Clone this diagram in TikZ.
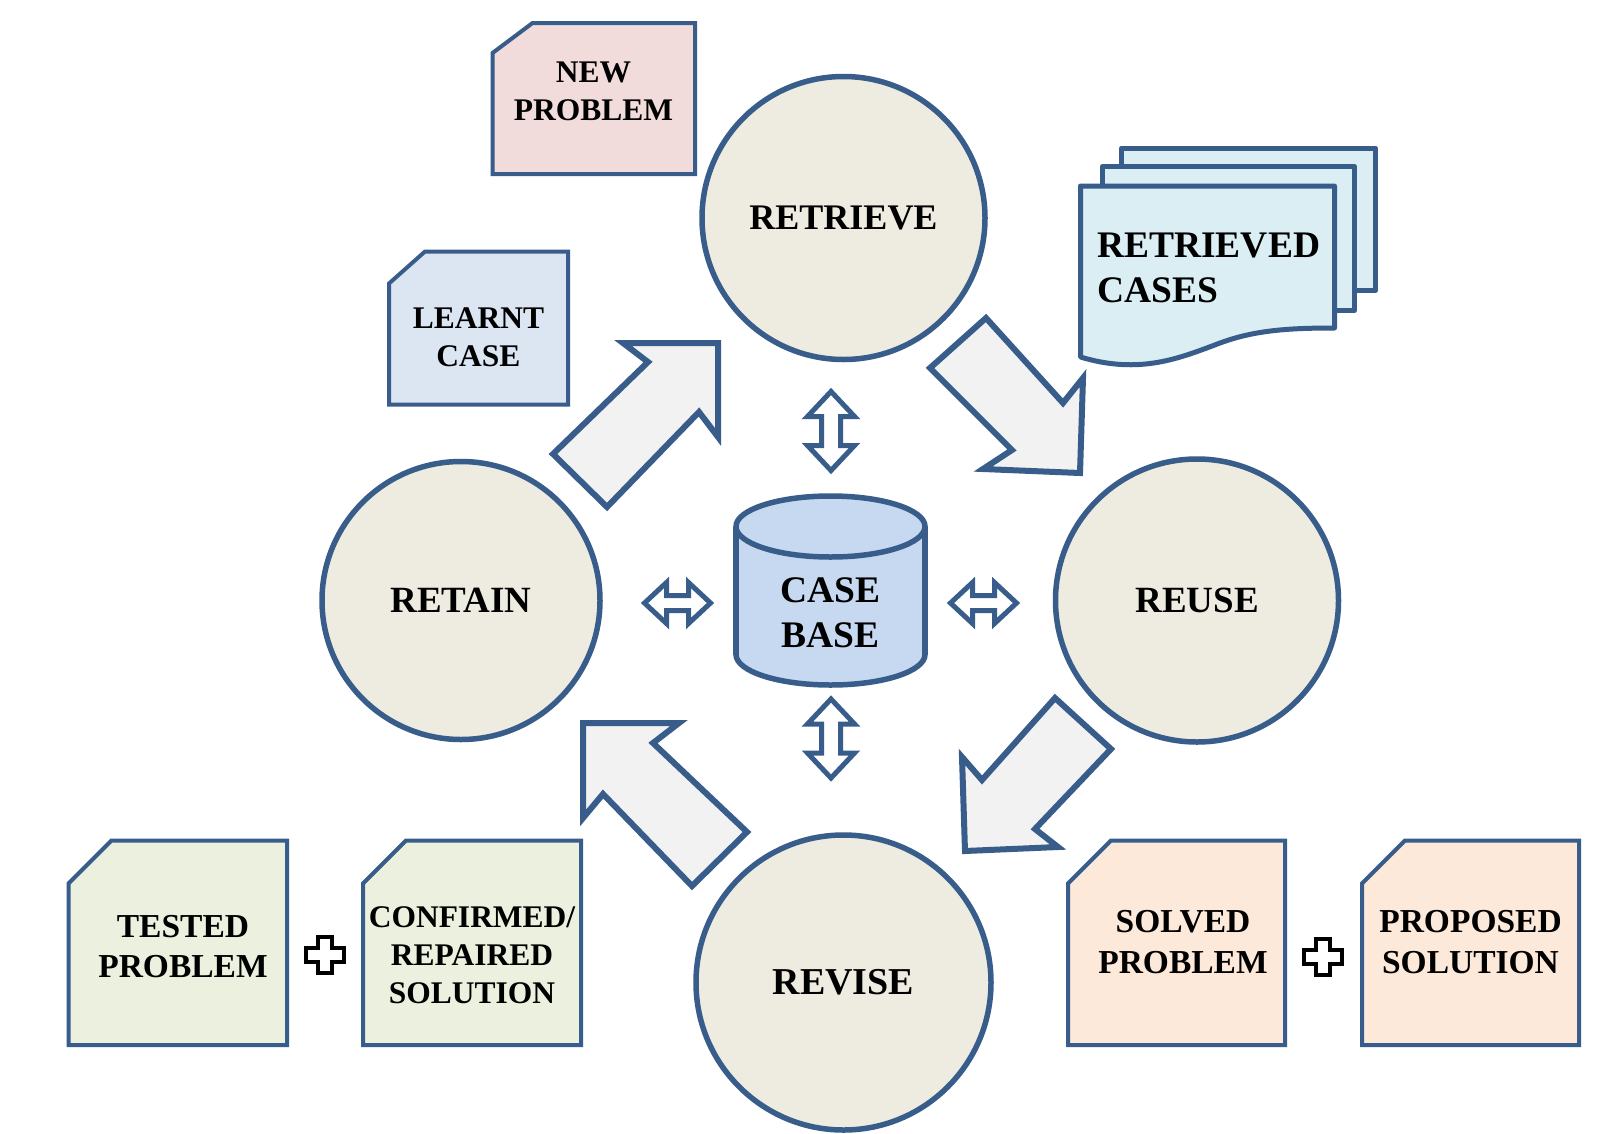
\documentclass[tikz,border=0pt]{standalone}
\usepackage{fontspec}
\setmainfont{Liberation Serif}
\definecolor{edge}{HTML}{385D8A}
\definecolor{procfill}{HTML}{EEECE1}
\definecolor{arrowfill}{HTML}{F2F2F2}
\definecolor{cylfill}{HTML}{C6D9F1}
\definecolor{pinkfill}{HTML}{F2DCDB}
\definecolor{learntfill}{HTML}{DCE6F2}
\definecolor{retrfill}{HTML}{DBEEF4}
\definecolor{greenfill}{HTML}{EBF1DE}
\definecolor{peachfill}{HTML}{FDE9D9}
\tikzset{
  proc/.style={circle, draw=edge, line width=5.5pt, fill=procfill, inner sep=0pt},
  docshape/.style={draw=edge, line width=4pt, line join=miter},
  multidoc/.style={draw=edge, line width=5pt, line join=round, fill=retrfill},
  doctext/.style={align=center, inner sep=0pt},
  blockarrow/.style={draw=edge, fill=arrowfill, line width=6pt, line join=miter},
  dblarrow/.style={draw=edge, fill=white, line width=5pt, line join=miter},
  plussign/.style={draw=black, fill=white, line width=3.5pt, line join=miter},
  cylshape/.style={draw=edge, fill=cylfill, line width=5.5pt},
}
\newcommand{\fs}[1]{\bfseries\fontsize{#1}{\fpeval{1.2*#1}}\selectfont}
\begin{document}
\begin{tikzpicture}[x=1pt,y=-1pt]
\useasboundingbox (0,0) rectangle (1620,1133);
\fill[white] (0,0) rectangle (1620,1133);

% ---- process circles
\node[proc, minimum size=283pt, font=\fs{36}] (retrieve) at (843.5,218) {RETRIEVE};
\node[proc, minimum size=278pt, font=\fs{37}] (retain) at (461,600.5) {RETAIN};
\node[proc, minimum size=283pt, font=\fs{37}] (reuse) at (1197,600.5) {REUSE};
\node[proc, minimum size=295pt, font=\fs{38}] (revise) at (843.5,982.5) {REVISE};

% ---- block arrows of the cycle
\draw[blockarrow] (718,343) -- (623,343) -- (648,362) -- (553,454) -- (607,507) -- (699,412) -- (718,437) -- cycle;
\draw[blockarrow] (986,318) -- (1063,403) -- (1083,378) -- (1080,473) -- (983,469) -- (1012,450) -- (930,368) -- cycle;
\draw[blockarrow] (1055,698) -- (1111,749) -- (1035,829) -- (1058,847) -- (965,851) -- (962,757) -- (982,780) -- cycle;
\draw[blockarrow] (583,723) -- (679,723) -- (653,743) -- (747,832) -- (692,886) -- (603,794) -- (583,818) -- cycle;

% ---- case base cylinder
\draw[cylshape] (830.5,654.5) ellipse [x radius=94.5pt, y radius=30.5pt];
\fill[cylfill] (736,526.5) rectangle (925,654.5);
\draw[edge, line width=5.5pt] (736,526.5) -- (736,654.5) (925,526.5) -- (925,654.5);
\draw[cylshape] (830.5,526.5) ellipse [x radius=94.5pt, y radius=30.5pt];
\node[doctext, font=\fs{37.5}] (casebase) at (830.5,613) {CASE\\BASE};

% ---- small double arrows
\draw[dblarrow, shift={(831,431)}] (0,-39.5) -- (23.5,-14.5) -- (9.5,-14.5) -- (9.5,14.5) -- (23.5,14.5) -- (0,39.5) -- (-23.5,14.5) -- (-9.5,14.5) -- (-9.5,-14.5) -- (-23.5,-14.5) -- cycle;
\draw[dblarrow, shift={(831,738.5)}] (0,-39.5) -- (23.5,-14.5) -- (9.5,-14.5) -- (9.5,14.5) -- (23.5,14.5) -- (0,39.5) -- (-23.5,14.5) -- (-9.5,14.5) -- (-9.5,-14.5) -- (-23.5,-14.5) -- cycle;
\draw[dblarrow, shift={(677.5,603)}] (-33,0) -- (-11,-20.5) -- (-11,-7.5) -- (11,-7.5) -- (11,-20.5) -- (33,0) -- (11,20.5) -- (11,7.5) -- (-11,7.5) -- (-11,20.5) -- cycle;
\draw[dblarrow, shift={(983.5,603)}] (-33,0) -- (-11,-20.5) -- (-11,-7.5) -- (11,-7.5) -- (11,-20.5) -- (33,0) -- (11,20.5) -- (11,7.5) -- (-11,7.5) -- (-11,20.5) -- cycle;

% ---- documents
\draw[docshape, fill=pinkfill] (492.5,53) -- (532.5,23) -- (695,23) -- (695,174) -- (492.5,174) -- cycle;
\node[doctext, font=\fs{31.5}] (newproblem) at (593.5,91.5) {NEW\\PROBLEM};

\draw[docshape, fill=learntfill] (389,283.5) -- (425,251.5) -- (568,251.5) -- (568,404.5) -- (389,404.5) -- cycle;
\node[doctext, font=\fs{31.5}] (learnt) at (478.5,337) {LEARNT\\CASE};

\draw[docshape, fill=greenfill] (68.5,883.5) -- (111.5,840.5) -- (287,840.5) -- (287,1045) -- (68.5,1045) -- cycle;
\node[doctext, font=\fs{33.5}] (tested) at (183,946.5) {TESTED\\PROBLEM};

\draw[docshape, fill=greenfill] (363,883.5) -- (406,840.5) -- (581,840.5) -- (581,1045) -- (363,1045) -- cycle;
\node[doctext, font=\fs{31.5}] (confirmed) at (472,955) {CONFIRMED/\\REPAIRED\\SOLUTION};

\draw[docshape, fill=peachfill] (1068,883.5) -- (1111,840.5) -- (1285,840.5) -- (1285,1045) -- (1068,1045) -- cycle;
\node[doctext, font=\fs{33.5}] (solved) at (1183,942) {SOLVED\\PROBLEM};

\draw[docshape, fill=peachfill] (1362,883.5) -- (1405,840.5) -- (1579,840.5) -- (1579,1045) -- (1362,1045) -- cycle;
\node[doctext, font=\fs{33.5}] (proposed) at (1470.5,942) {PROPOSED\\SOLUTION};

% ---- plus signs
\draw[plussign, shift={(325,955)}] (-7,-18) -- (7,-18) -- (7,-7) -- (19,-7) -- (19,7) -- (7,7) -- (7,18) -- (-7,18) -- (-7,7) -- (-19,7) -- (-19,-7) -- (-7,-7) -- cycle;
\draw[plussign, shift={(1323,957)}] (-7,-18) -- (7,-18) -- (7,-7) -- (19,-7) -- (19,7) -- (7,7) -- (7,18) -- (-7,18) -- (-7,7) -- (-19,7) -- (-19,-7) -- (-7,-7) -- cycle;

% ---- retrieved cases (multi-document)
\draw[multidoc] (1121.5,168.5) -- (1121.5,148) -- (1375.5,148) -- (1375.5,290.5) -- (1354.5,290.5);
\draw[multidoc] (1102.5,187.5) -- (1102.5,166.5) -- (1354.5,166.5) -- (1354.5,310.5) -- (1334.5,310.5);
\draw[multidoc] (1080.5,186) -- (1334.5,186) -- (1334.5,328)
  .. controls (1290,328) and (1255,330) .. (1220,343)
  .. controls (1180,358) and (1140,375) .. (1080.5,357) -- cycle;
\node[doctext, align=left, anchor=west, font=\fs{37.5}] (retrieved) at (1097,268) {RETRIEVED\\CASES};
\end{tikzpicture}
\end{document}
